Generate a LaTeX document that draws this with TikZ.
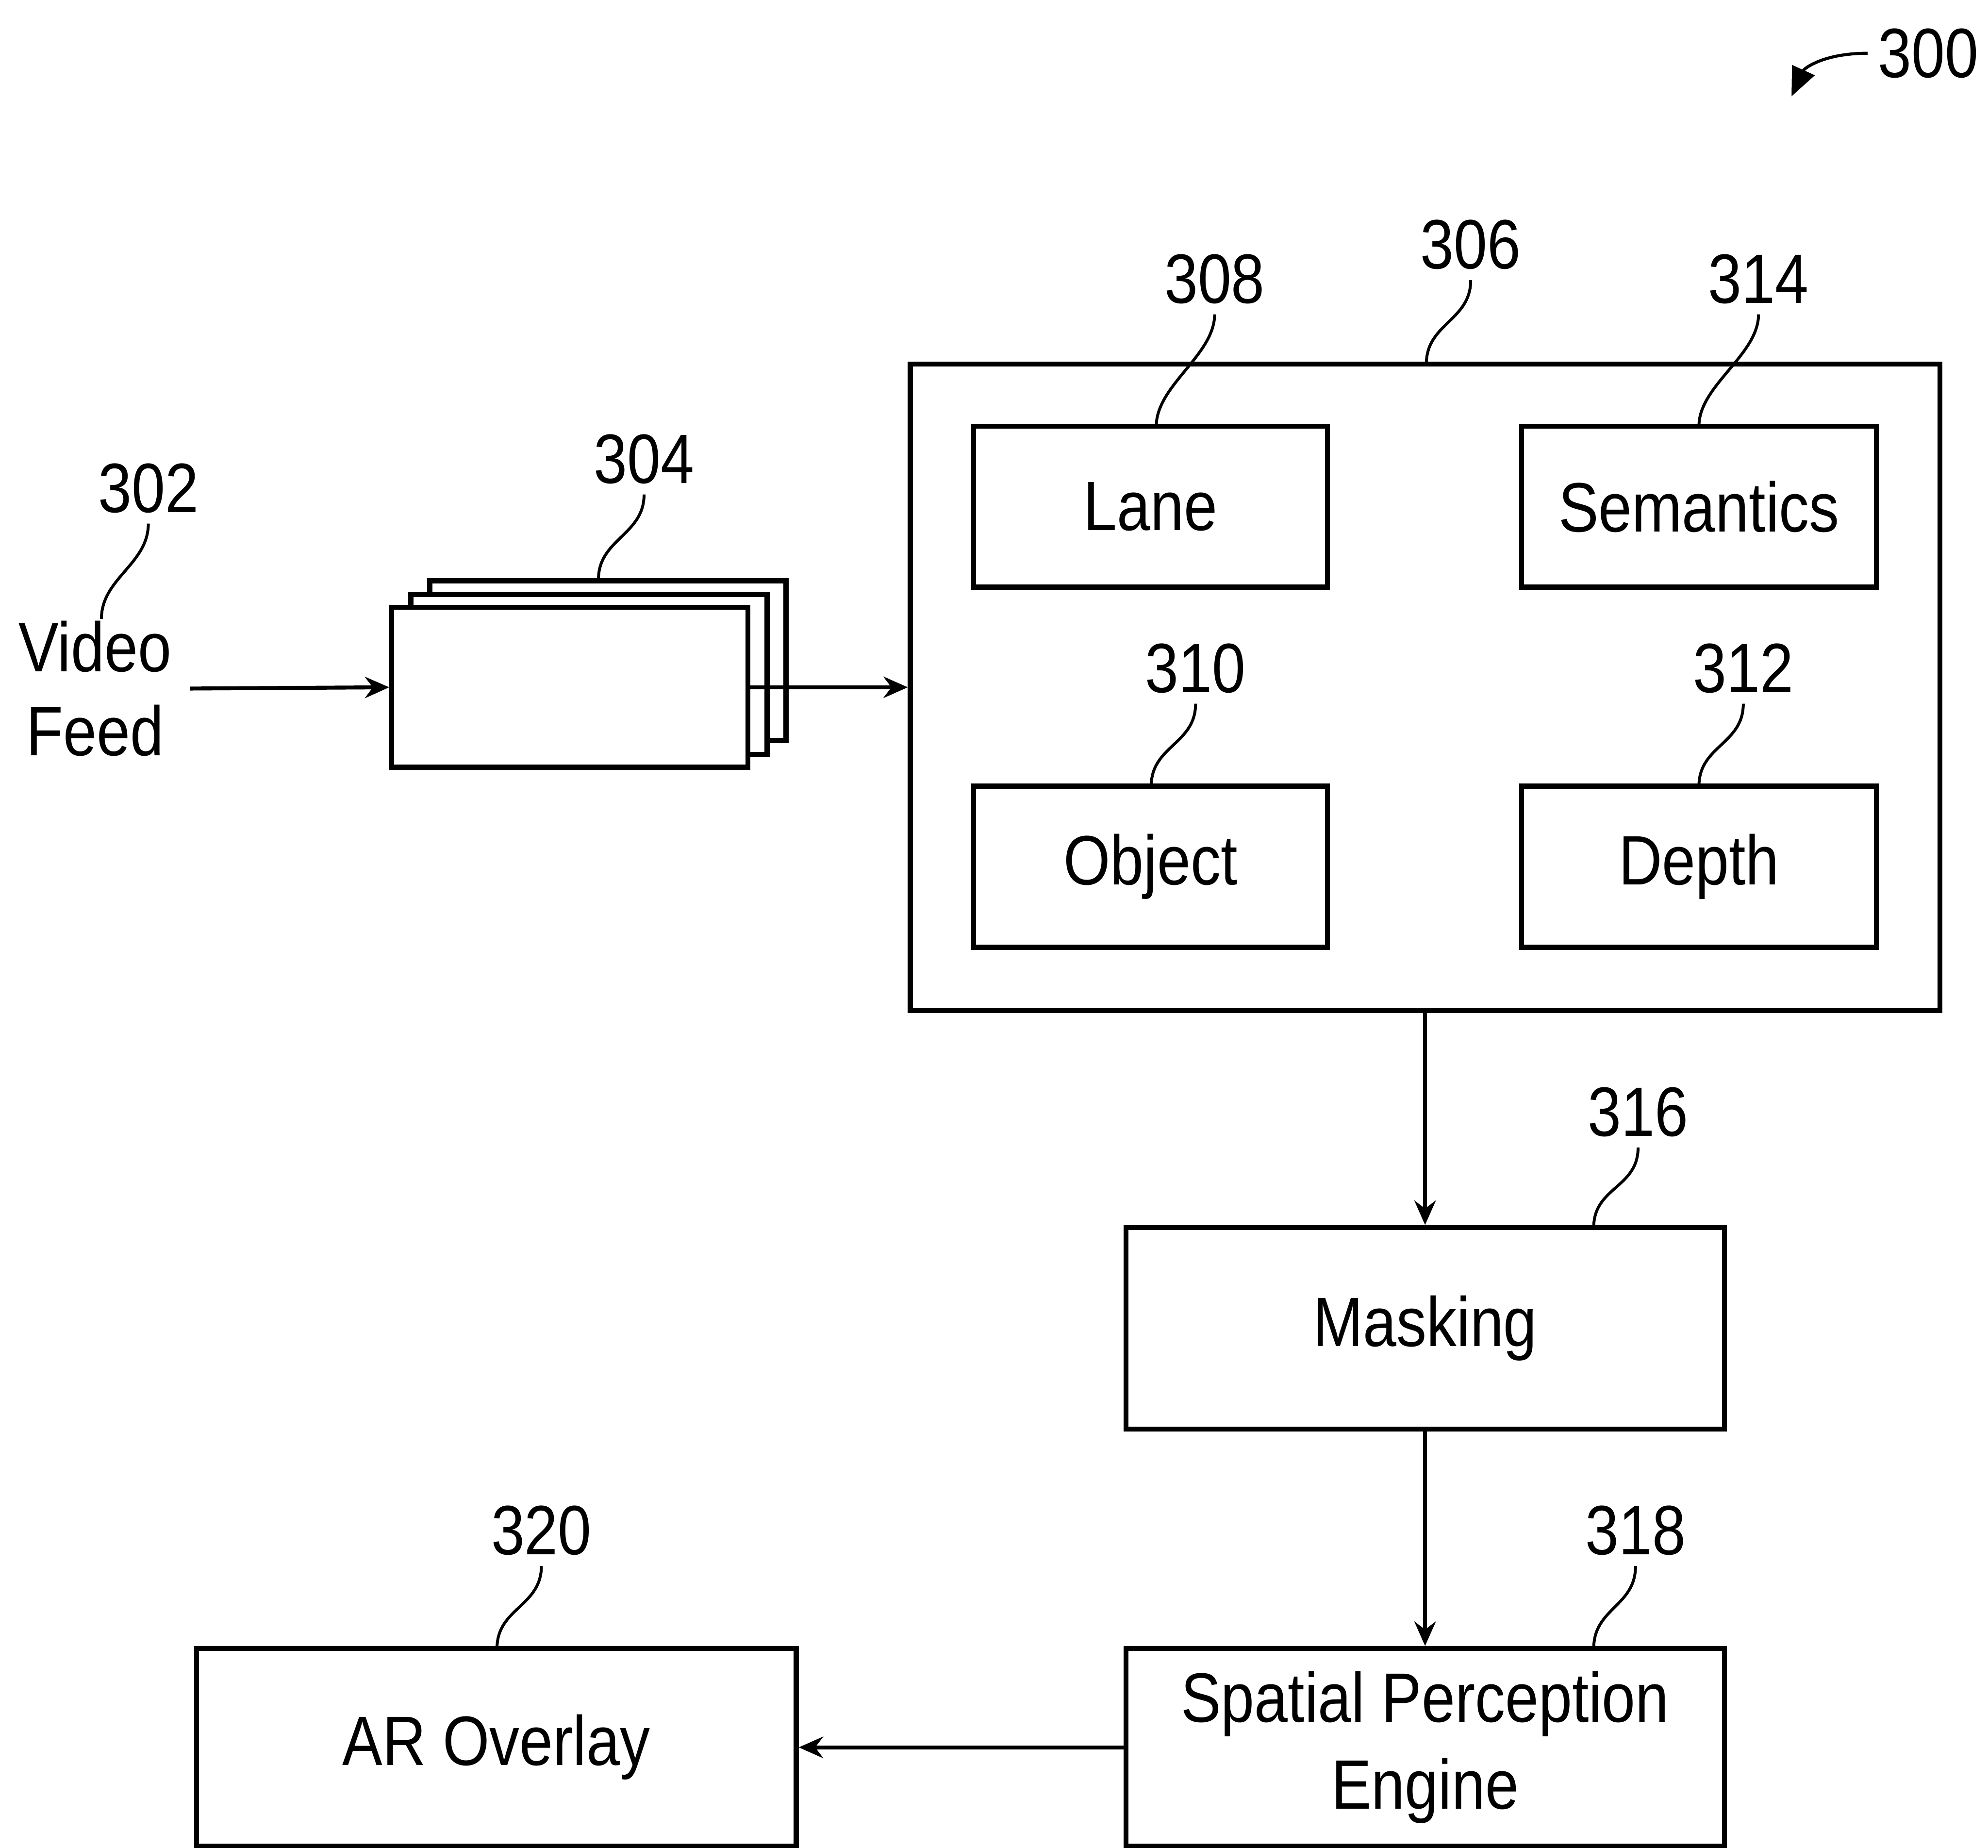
\documentclass[tikz,border=0pt]{standalone}
\usepackage{fontspec}
\setmainfont[FakeStretch=0.86]{Liberation Sans}
\usetikzlibrary{arrows.meta}
\begin{document}
\begin{tikzpicture}[x=0.029317cm,y=-0.029317cm,
  box/.style 2 args={draw, line width=3.3pt, inner sep=0pt, fill=white, font=\fontsize{46}{57}\selectfont, align=center,
     minimum width=#1*0.029317cm, minimum height=#2*0.029317cm},
  num/.style={font=\fontsize{46}{55}\selectfont, inner sep=0pt, outer sep=7pt},
  arr/.style={line width=2.6pt, -{Stealth[length=16pt,width=14pt]}},
  leader/.style={line width=1.9pt}]
\useasboundingbox (0,0) rectangle (1568,1457);

% frames 304
\node[box={281}{126}] (f3) at (479.5,521) {};
\node[box={281}{126}] (f2) at (464.5,532) {};
\node[box={281}{126}] (f1) at (449.5,542) {};

% big box 306
\node[box={812}{510}] (b306) at (1124,542) {};
\node[box={279}{127}] (lane) at (907.5,399.5) {Lane};
\node[box={280}{127}] (sem) at (1340,399.5) {Semantics};
\node[box={279}{127}] (obj) at (907.5,683.5) {Object};
\node[box={280}{127}] (depth) at (1340,683.5) {Depth};

\node[box={472}{159}] (mask) at (1124,1047.5) {Masking};
\node[box={472}{156}] (spe) at (1124,1378) {Spatial Perception\\Engine};
\node[box={473}{156}] (ar) at (391.5,1378) {AR Overlay};

% video feed
\node[font=\fontsize{46}{55}\selectfont, align=center, inner sep=0pt] (vf) at (75,543) {Video\\Feed};

% arrows
\draw[arr] ([xshift=12pt]vf.east) -- (f1.west);
\draw[arr] (f1.east) -- (b306.west);
\draw[arr] (b306.south) -- (mask.north);
\draw[arr] (mask.south) -- (spe.north);
\draw[arr] (spe.west) -- (ar.east);

% reference numerals
\node[num] (n300) at (1521,42) {300};
\node[num] (n302) at (117,385) {302};
\node[num] (n304) at (508,362) {304};
\node[num] (n306) at (1160,193) {306};
\node[num] (n308) at (958,220) {308};
\node[num] (n314) at (1387,220) {314};
\node[num] (n310) at (943,527) {310};
\node[num] (n312) at (1375,527) {312};
\node[num] (n316) at (1292,877) {316};
\node[num] (n318) at (1290,1207) {318};
\node[num] (n320) at (427,1207) {320};

\coordinate (c302) at (80,488);
\coordinate (c304) at (472,457);
\coordinate (c306) at (1125,287);
\coordinate (c308) at (912,336);
\coordinate (c314) at (1340,336);
\coordinate (c310) at (908,620);
\coordinate (c312) at (1340,620);
\coordinate (c316) at (1257,968);
\coordinate (c318) at (1257,1300);
\coordinate (c320) at (392,1300);

\foreach \n in {302,304,306,308,314,310,312,316,318,320}{
  \draw[leader] (n\n.south) .. controls +(0,32) and +(0,-32) .. (c\n);
}

\coordinate (c300) at (1413,76);
\draw[line width=2pt, -{Triangle[length=19pt,width=16pt]}] (n300.west) .. controls +(-35,0) and +(10,-22) .. (c300);
\end{tikzpicture}
\end{document}
